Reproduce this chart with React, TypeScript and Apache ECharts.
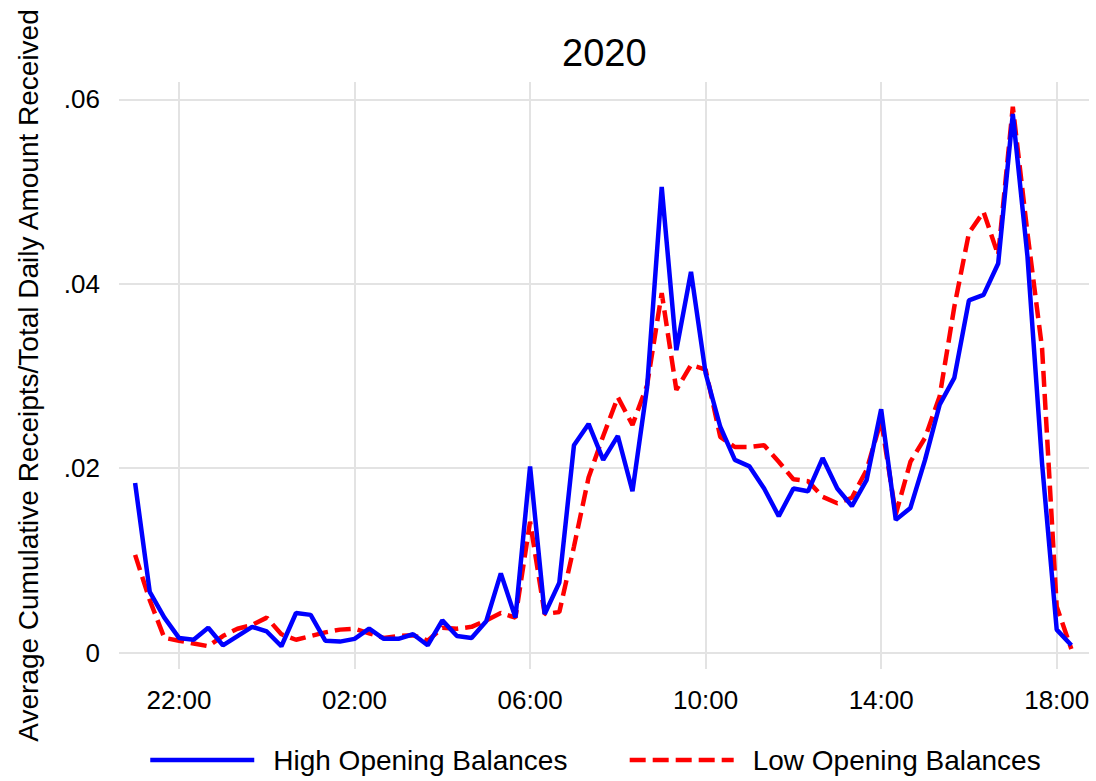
import React, { useEffect, useRef } from "react";
import * as echarts from "echarts";

const times = [
  "21:00", "21:20", "21:40", "22:00", "22:20", "22:40", "23:00", "23:20", "23:40",
  "00:00", "00:20", "00:40", "01:00", "01:20", "01:40", "02:00", "02:20", "02:40",
  "03:00", "03:20", "03:40", "04:00", "04:20", "04:40", "05:00", "05:20", "05:40",
  "06:00", "06:20", "06:40", "07:00", "07:20", "07:40", "08:00", "08:20", "08:40",
  "09:00", "09:20", "09:40", "10:00", "10:20", "10:40", "11:00", "11:20", "11:40",
  "12:00", "12:20", "12:40", "13:00", "13:20", "13:40", "14:00", "14:20", "14:40",
  "15:00", "15:20", "15:40", "16:00", "16:20", "16:40", "17:00", "17:20", "17:40",
  "18:00", "18:20",
];

const highOpening = [
  0.0184, 0.0066, 0.0038, 0.0016, 0.0014, 0.0027, 0.0008, 0.0018, 0.0028,
  0.0023, 0.0007, 0.0043, 0.0041, 0.0013, 0.0012, 0.0015, 0.0026, 0.0015,
  0.0015, 0.0020, 0.0008, 0.0035, 0.0018, 0.0016, 0.0034, 0.0086, 0.0038,
  0.0202, 0.0042, 0.0076, 0.0225, 0.0248, 0.0209, 0.0235, 0.0175, 0.0288,
  0.0505, 0.0328, 0.0413, 0.0303, 0.0245, 0.0209, 0.0202, 0.0178, 0.0148,
  0.0178, 0.0175, 0.0211, 0.0178, 0.0159, 0.0187, 0.0264, 0.0144, 0.0157,
  0.0209, 0.0269, 0.0298, 0.0382, 0.0388, 0.0422, 0.0584, 0.0430, 0.0205,
  0.0025, 0.0008,
];

const lowOpening = [
  0.0106, 0.0057, 0.0016, 0.0013, 0.0010, 0.0007, 0.0018, 0.0026, 0.0030,
  0.0038, 0.0020, 0.0014, 0.0018, 0.0022, 0.0025, 0.0026, 0.0021, 0.0016,
  0.0018, 0.0019, 0.0013, 0.0027, 0.0026, 0.0028, 0.0035, 0.0043, 0.0038,
  0.0142, 0.0042, 0.0044, 0.0115, 0.0190, 0.0235, 0.0277, 0.0247, 0.0290,
  0.0390, 0.0285, 0.0312, 0.0307, 0.0234, 0.0223, 0.0223, 0.0225, 0.0207,
  0.0188, 0.0186, 0.0169, 0.0162, 0.0168, 0.0198, 0.0252, 0.0150, 0.0207,
  0.0233, 0.0278, 0.0375, 0.0455, 0.0478, 0.0431, 0.0592, 0.0455, 0.0330,
  0.0050, 0.0004,
];

const seriesNames = ["High Opening Balances", "Low Opening Balances"];
const xTickHours = [0, 4, 8, 12, 16, 20];
const xTickLabels = ["22:00", "02:00", "06:00", "10:00", "14:00", "18:00"];
const yTickValues = [0, 0.02, 0.04, 0.06];
const yTickLabels = ["0", ".02", ".04", ".06"];

// hours elapsed since 22:00 of the first evening
function toHours(t: string): number {
  const [h, m] = t.split(":").map(Number);
  let v = h + m / 60 - 22;
  if (v < -1.5) v += 24;
  return v;
}

const FONT = "'Liberation Sans', Arial, Helvetica, sans-serif";
const LINE_W = 4.5;

export default function App() {
  const ref = useRef<HTMLDivElement>(null);

  useEffect(() => {
    if (!ref.current) return;
    const chart = echarts.init(ref.current, undefined, { renderer: "svg" });
    const highData = times.map((t, i) => [toHours(t), highOpening[i]]);
    const lowData = times.map((t, i) => [toHours(t), lowOpening[i]]);

    chart.setOption({
      animation: false,
      backgroundColor: "#ffffff",
      textStyle: { fontFamily: FONT },
      title: {
        text: "2020",
        left: 562,
        top: 34,
        padding: 0,
        textStyle: { fontFamily: FONT, fontSize: 38, fontWeight: "normal", color: "#000" },
      },
      legend: {
        data: seriesNames,
        left: 148,
        top: 746,
        padding: 0,
        itemWidth: 104,
        itemHeight: 14,
        itemGap: 60,
        itemStyle: { opacity: 0 },
        lineStyle: { width: LINE_W },
        textStyle: { fontFamily: FONT, fontSize: 28, color: "#000", padding: [0, 0, 0, 14] },
      },
      grid: { left: 119, top: 82, width: 970, height: 587 },
      xAxis: {
        type: "value",
        min: -1.367,
        max: 20.736,
        axisLine: { show: false },
        axisTick: { show: false, customValues: xTickHours },
        axisLabel: {
          customValues: xTickHours,
          fontFamily: FONT,
          fontSize: 26,
          color: "#000",
          margin: 18,
          formatter: (v: number) => {
            const idx = xTickHours.findIndex((h) => Math.abs(h - v) < 1e-6);
            return idx >= 0 ? xTickLabels[idx] : "";
          },
        },
        splitLine: { show: true, lineStyle: { color: "#e3e3e3", width: 2 } },
      },
      yAxis: {
        type: "value",
        min: -0.00177,
        max: 0.06188,
        name: "Average Cumulative Receipts/Total Daily Amount Received",
        nameLocation: "middle",
        nameGap: 77,
        nameTextStyle: { fontFamily: FONT, fontSize: 28, color: "#000" },
        axisLine: { show: false },
        axisTick: { show: false, customValues: yTickValues },
        axisLabel: {
          customValues: yTickValues,
          fontFamily: FONT,
          fontSize: 26,
          color: "#000",
          margin: 19,
          formatter: (v: number) => {
            const idx = yTickValues.findIndex((h) => Math.abs(h - v) < 1e-9);
            return idx >= 0 ? yTickLabels[idx] : "";
          },
        },
        splitLine: { show: true, lineStyle: { color: "#e3e3e3", width: 2 } },
      },
      series: [
        {
          name: seriesNames[1],
          type: "line",
          data: lowData,
          showSymbol: false,
          symbol: "none",
          z: 2,
          lineStyle: { color: "#ff0000", width: LINE_W, type: [16, 7] },
          itemStyle: { color: "#ff0000" },
        },
        {
          name: seriesNames[0],
          type: "line",
          data: highData,
          showSymbol: false,
          symbol: "none",
          z: 3,
          lineStyle: { color: "#0000ff", width: LINE_W, type: "solid" },
          itemStyle: { color: "#0000ff" },
        },
      ],
    });

    return () => chart.dispose();
  }, []);

  return (
    <div
      ref={ref}
      style={{ position: "fixed", left: 0, top: 0, width: 1096, height: 781, background: "#fff" }}
    />
  );
}
